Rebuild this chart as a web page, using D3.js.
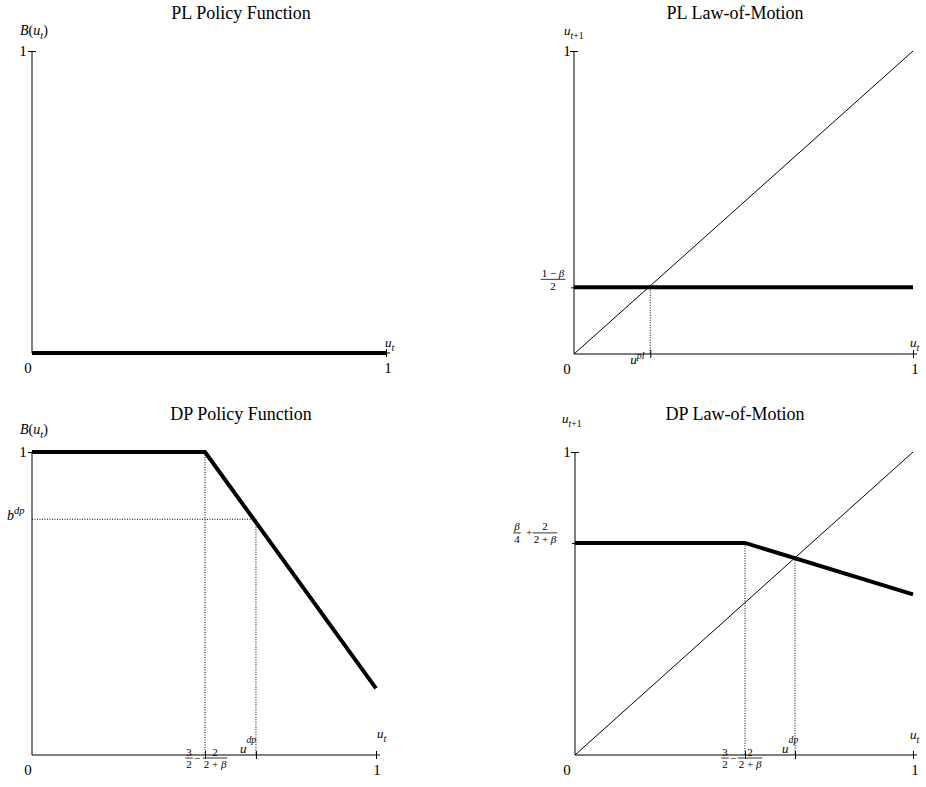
<!DOCTYPE html>
<html>
<head>
<meta charset="utf-8">
<script src="https://cdn.jsdelivr.net/npm/d3@7"></script>
<style>
body { margin: 0; background: #fff; }
text { font-family: "Liberation Serif", "Times New Roman", serif; fill: #000; }
</style>
</head>
<body>
<svg id="chart" width="926" height="787"></svg>
<script>
// chart values
var titles = ["PL Policy Function", "PL Law-of-Motion", "DP Policy Function", "DP Law-of-Motion"];
var diagonalU = [0, 1];
var plPolicyU = [0, 1];
var plPolicyB = [0, 0];
var plLawU = [0, 1];
var plLawNext = [0.22, 0.22];
var uPl = 0.225;
var dpPolicyU = [0, 0.503, 1];
var dpPolicyB = [1, 1, 0.22];
var bDp = 0.778;
var uDpPolicy = 0.651;
var dpLawU = [0, 0.503, 1];
var dpLawNext = [0.70, 0.70, 0.53];
var uDpLaw = 0.651;

var svg = d3.select("#chart");

// panel boxes (pixel frame of each small chart)
var panels = [
    {left: 32, right: 386, bottom: 353, top: 51, titleX: 241, titleY: 19},
    {left: 574, right: 913, bottom: 354, top: 51, titleX: 735, titleY: 19},
    {left: 32, right: 376, bottom: 755, top: 452, titleX: 241, titleY: 420},
    {left: 575, right: 913, bottom: 755, top: 452, titleX: 735, titleY: 420}
];

panels.forEach(function(p, i) {
    p.x = d3.scaleLinear().domain([0, 1]).range([p.left, p.right]);
    p.y = d3.scaleLinear().domain([0, 1]).range([p.bottom, p.top]);
    p.g = svg.append("g");
    p.g.append("text")
        .attr("x", p.titleX)
        .attr("y", p.titleY)
        .attr("text-anchor", "middle")
        .attr("font-size", 18)
        .text(titles[i]);
});

// text with italic parts, sub- and superscripts
function mathText(g, x, y, size, parts, anchor) {
    var t = g.append("text")
        .attr("x", x)
        .attr("y", y)
        .attr("font-size", size)
        .attr("text-anchor", anchor || "start");
    var shift = 0;
    parts.forEach(function(p) {
        var s = p[1] || "";
        var target = 0;
        if (s.indexOf("sub") >= 0) target = size * 0.3;
        if (s.indexOf("sup") >= 0) target = p[2] !== undefined ? p[2] : -size * 0.45;
        var ts = t.append("tspan").text(p[0]).attr("dy", target - shift);
        if (target !== 0) ts.attr("font-size", size * 0.75);
        if (s.indexOf("i") === 0) ts.attr("font-style", "italic");
        shift = target;
    });
    return t;
}

function frac(g, cx, barY, size, num, den) {
    var n = mathText(g, cx, barY - 2.5, size, num, "middle");
    var d = mathText(g, cx, barY + size * 0.95, size, den, "middle");
    var w = Math.max(n.node().getComputedTextLength(), d.node().getComputedTextLength()) + 2;
    g.append("line")
        .attr("x1", cx - w / 2).attr("x2", cx + w / 2)
        .attr("y1", barY).attr("y2", barY)
        .attr("stroke", "#000").attr("stroke-width", 0.8);
}

function plainText(g, x, y, size, str, anchor) {
    g.append("text")
        .attr("x", x).attr("y", y)
        .attr("font-size", size)
        .attr("text-anchor", anchor || "middle")
        .text(str);
}

function drawAxes(p, xTicks, yTicks, yLeftTicks) {
    var g = p.g;
    g.append("line")
        .attr("x1", p.x(0)).attr("x2", p.x(1) + 4)
        .attr("y1", p.y(0)).attr("y2", p.y(0))
        .attr("stroke", "#000");
    g.append("line")
        .attr("x1", p.x(0)).attr("x2", p.x(0))
        .attr("y1", p.y(0)).attr("y2", p.y(1))
        .attr("stroke", "#000");

    var xAxis = d3.axisBottom(p.x).tickValues(xTicks).tickFormat("").tickSizeInner(4).tickSizeOuter(0);
    var xg = g.append("g").attr("transform", "translate(0," + p.y(0) + ")").call(xAxis);
    xg.select(".domain").remove();
    xg.selectAll(".tick line").attr("y1", -4);

    var yAxis = d3.axisLeft(p.y).tickValues(yTicks).tickFormat("").tickSizeInner(4).tickSizeOuter(0);
    var yg = g.append("g").attr("transform", "translate(" + p.x(0) + ",0)").call(yAxis);
    yg.select(".domain").remove();
    yg.selectAll(".tick line").attr("x1", 4);

    if (yLeftTicks.length) {
        var yAxis2 = d3.axisLeft(p.y).tickValues(yLeftTicks).tickFormat("").tickSizeInner(3).tickSizeOuter(0);
        var yg2 = g.append("g").attr("transform", "translate(" + p.x(0) + ",0)").call(yAxis2);
        yg2.select(".domain").remove();
    }
}

function thickPath(p, us, vs) {
    var line = d3.line().x(function(d) { return p.x(d[0]); }).y(function(d) { return p.y(d[1]); });
    p.g.append("path")
        .datum(d3.zip(us, vs))
        .attr("d", line)
        .attr("fill", "none")
        .attr("stroke", "#000")
        .attr("stroke-width", 4);
}

function thinPath(p, us, vs) {
    var line = d3.line().x(function(d) { return p.x(d[0]); }).y(function(d) { return p.y(d[1]); });
    p.g.append("path")
        .datum(d3.zip(us, vs))
        .attr("d", line)
        .attr("fill", "none")
        .attr("stroke", "#000")
        .attr("stroke-width", 1);
}

function dotted(p, u1, v1, u2, v2) {
    p.g.append("line")
        .attr("x1", p.x(u1)).attr("y1", p.y(v1))
        .attr("x2", p.x(u2)).attr("y2", p.y(v2))
        .attr("stroke", "#000")
        .attr("stroke-width", 1)
        .attr("stroke-dasharray", "1,1.5");
}

var uT = [["u", "i"], ["t", "isub"]];
var uNext = [["u", "i"], ["t", "isub"], ["+1", "sub"]];
var bOfU = [["B", "i"], ["("], ["u", "i"], ["t", "isub"], [")"]];
var twoPlusBeta = [["2 + "], ["\u03b2", "i"]];

// ---- PL Policy Function
var p1 = panels[0];
drawAxes(p1, [1], [1], []);
thickPath(p1, plPolicyU, plPolicyB);
plainText(p1.g, p1.x(0) - 4, p1.y(0) + 20, 15, "0");
plainText(p1.g, p1.x(1) + 2, p1.y(0) + 20, 15, "1");
plainText(p1.g, p1.x(0) - 9, p1.y(1) + 5, 15, "1");
mathText(p1.g, 20, p1.y(1) - 16, 14, bOfU);
mathText(p1.g, p1.x(1) - 1, p1.y(0) - 6, 13, uT);

// ---- PL Law-of-Motion
var p2 = panels[1];
drawAxes(p2, [uPl, 1], [1], [plLawNext[0]]);
thinPath(p2, diagonalU, diagonalU);
dotted(p2, uPl, plLawNext[0], uPl, 0);
thickPath(p2, plLawU, plLawNext);
plainText(p2.g, p2.x(0) - 7, p2.y(0) + 20, 15, "0");
plainText(p2.g, p2.x(1) + 2, p2.y(0) + 20, 15, "1");
plainText(p2.g, p2.x(0) - 7, p2.y(1) + 5, 15, "1");
mathText(p2.g, 564, p2.y(1) - 16, 13, uNext);
mathText(p2.g, p2.x(1) - 3, p2.y(0) - 7, 13, uT);
frac(p2.g, 553, p2.y(plLawNext[0]) - 8, 11, [["1 \u2212 "], ["\u03b2", "i"]], [["2"]]);
mathText(p2.g, p2.x(uPl) - 20, p2.y(0) + 10, 13, [["u", "i"], ["pl", "isup", -5]]);

// ---- DP Policy Function
var p3 = panels[2];
drawAxes(p3, [dpPolicyU[1], uDpPolicy, 1], [1], []);
dotted(p3, dpPolicyU[1], 1, dpPolicyU[1], 0);
dotted(p3, 0, bDp, uDpPolicy, bDp);
dotted(p3, uDpPolicy, bDp, uDpPolicy, 0);
thickPath(p3, dpPolicyU, dpPolicyB);
plainText(p3.g, p3.x(0) - 4, p3.y(0) + 20, 15, "0");
plainText(p3.g, p3.x(1) + 1, p3.y(0) + 20, 15, "1");
plainText(p3.g, p3.x(0) - 9, p3.y(1) + 5, 15, "1");
mathText(p3.g, 20, p3.y(1) - 18, 14, bOfU);
mathText(p3.g, p3.x(1) + 1, p3.y(0) - 17, 13, uT);
mathText(p3.g, 7, p3.y(bDp) + 1, 14, [["b", "i"], ["dp", "isup", -6]]);
frac(p3.g, p3.x(dpPolicyU[1]) - 16, p3.y(0) + 3, 11, [["3"]], [["2"]]);
plainText(p3.g, p3.x(dpPolicyU[1]) - 8, p3.y(0) + 7, 11, "\u2212");
frac(p3.g, p3.x(dpPolicyU[1]) + 10, p3.y(0) + 3, 11, [["2"]], twoPlusBeta);
mathText(p3.g, p3.x(uDpPolicy) - 16, p3.y(0) - 2, 13, [["u", "i"], ["dp", "isup", -10]]);

// ---- DP Law-of-Motion
var p4 = panels[3];
drawAxes(p4, [dpLawU[1], uDpLaw, 1], [1], [dpLawNext[0]]);
thinPath(p4, diagonalU, diagonalU);
dotted(p4, dpLawU[1], dpLawNext[1], dpLawU[1], 0);
dotted(p4, uDpLaw, uDpLaw, uDpLaw, 0);
thickPath(p4, dpLawU, dpLawNext);
plainText(p4.g, p4.x(0) - 8, p4.y(0) + 20, 15, "0");
plainText(p4.g, p4.x(1) + 2, p4.y(0) + 20, 15, "1");
plainText(p4.g, p4.x(0) - 8, p4.y(1) + 5, 15, "1");
mathText(p4.g, 562, p4.y(1) - 29, 13, uNext);
mathText(p4.g, p4.x(1) - 3, p4.y(0) - 16, 13, uT);
frac(p4.g, 517, p4.y(dpLawNext[0]) - 10, 11, [["\u03b2", "i"]], [["4"]]);
plainText(p4.g, 529, p4.y(dpLawNext[0]) - 7, 11, "+");
frac(p4.g, 545, p4.y(dpLawNext[0]) - 10, 11, [["2"]], twoPlusBeta);
frac(p4.g, p4.x(dpLawU[1]) - 20, p4.y(0) + 3, 11, [["3"]], [["2"]]);
plainText(p4.g, p4.x(dpLawU[1]) - 12, p4.y(0) + 7, 11, "\u2212");
frac(p4.g, p4.x(dpLawU[1]) + 5, p4.y(0) + 3, 11, [["2"]], twoPlusBeta);
mathText(p4.g, p4.x(uDpLaw) - 13, p4.y(0) - 2, 13, [["u", "i"], ["dp", "isup", -10]]);
</script>
</body>
</html>
